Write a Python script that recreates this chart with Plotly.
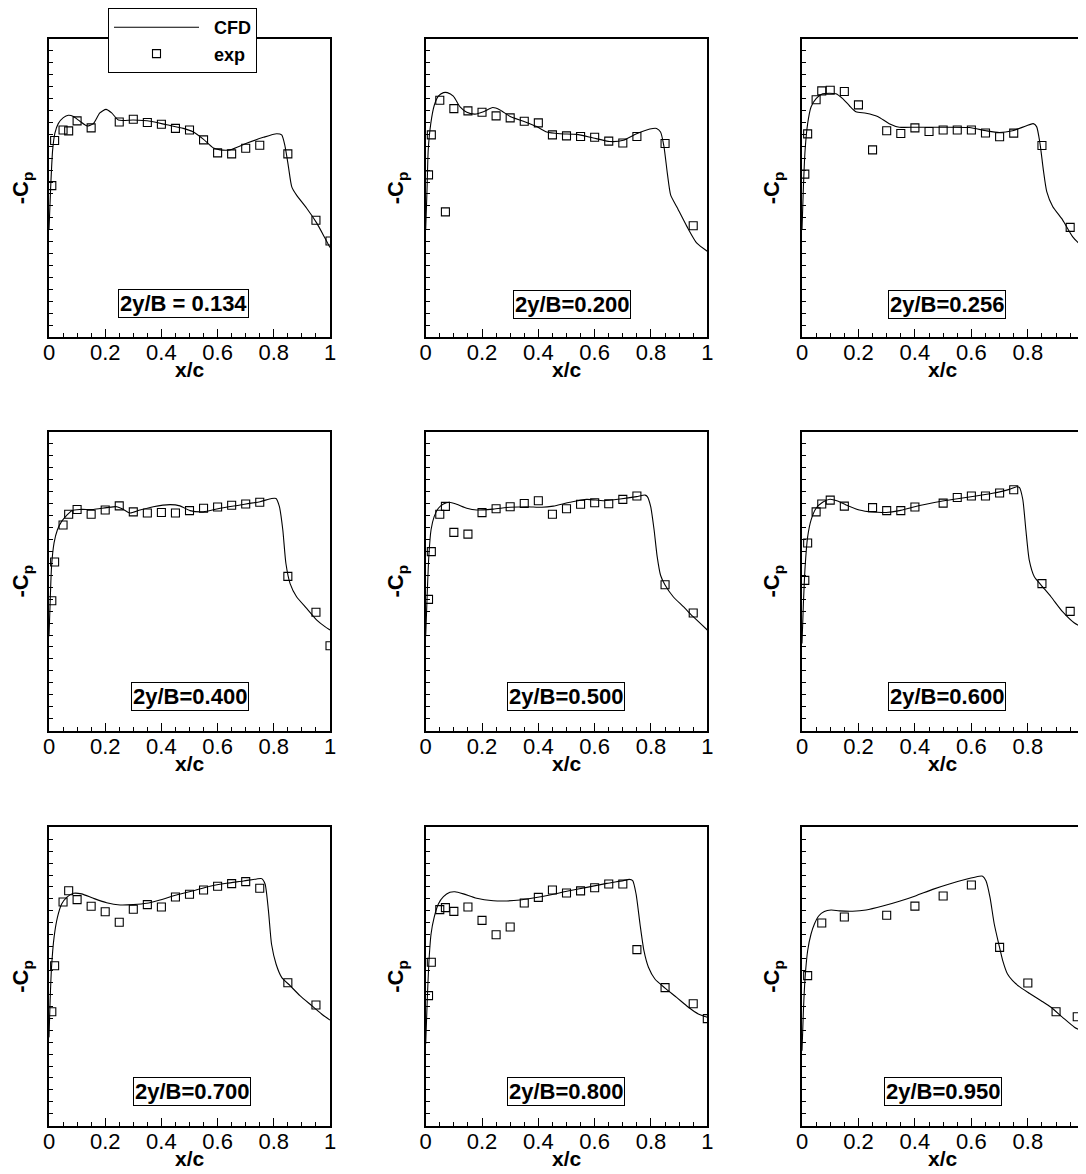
import plotly.graph_objects as go

# ---------------- data ----------------
labels = ["2y/B = 0.134", "2y/B=0.200", "2y/B=0.256",
          "2y/B=0.400", "2y/B=0.500", "2y/B=0.600",
          "2y/B=0.700", "2y/B=0.800", "2y/B=0.950"]

cfd_x1 = [0, 0.006, 0.013, 0.021, 0.033, 0.051, 0.069, 0.087, 0.11, 0.136, 0.158, 0.181, 0.203, 0.223, 0.247, 0.30, 0.36, 0.419, 0.478, 0.514, 0.549, 0.585, 0.609, 0.644, 0.703, 0.763, 0.81, 0.828, 0.84, 0.852, 0.864, 0.881, 0.917, 0.953, 0.982, 1.0]
cfd_y1 = [-0.10, 0.26, 0.57, 0.71, 0.79, 0.84, 0.86, 0.85, 0.81, 0.77, 0.79, 0.88, 0.91, 0.88, 0.82, 0.82, 0.81, 0.78, 0.75, 0.72, 0.66, 0.585, 0.57, 0.57, 0.625, 0.675, 0.705, 0.695, 0.60, 0.43, 0.26, 0.19, 0.08, -0.045, -0.17, -0.25]
exp_x1 = [0.01, 0.02, 0.05, 0.07, 0.10, 0.15, 0.25, 0.30, 0.35, 0.40, 0.45, 0.50, 0.55, 0.60, 0.65, 0.70, 0.75, 0.85, 0.95, 1.0]
exp_y1 = [0.27, 0.648, 0.737, 0.729, 0.813, 0.754, 0.804, 0.827, 0.80, 0.785, 0.75, 0.737, 0.654, 0.545, 0.536, 0.584, 0.609, 0.536, -0.02, -0.195]

cfd_x2 = [0, 0.005, 0.009, 0.018, 0.03, 0.045, 0.063, 0.077, 0.098, 0.122, 0.146, 0.175, 0.205, 0.238, 0.264, 0.30, 0.347, 0.394, 0.43, 0.477, 0.536, 0.595, 0.654, 0.702, 0.749, 0.796, 0.82, 0.834, 0.846, 0.858, 0.87, 0.891, 0.927, 0.962, 1.0]
cfd_y2 = [-0.10, 0.26, 0.57, 0.79, 0.94, 1.02, 1.05, 1.05, 1.02, 0.93, 0.885, 0.87, 0.89, 0.925, 0.905, 0.85, 0.81, 0.765, 0.72, 0.705, 0.70, 0.67, 0.64, 0.65, 0.705, 0.745, 0.75, 0.72, 0.60, 0.375, 0.19, 0.095, -0.07, -0.21, -0.28]
exp_x2 = [0.01, 0.02, 0.05, 0.07, 0.10, 0.15, 0.20, 0.25, 0.30, 0.35, 0.40, 0.45, 0.50, 0.55, 0.60, 0.65, 0.70, 0.75, 0.85, 0.95]
exp_y2 = [0.36, 0.696, 0.986, 0.05, 0.916, 0.897, 0.885, 0.855, 0.838, 0.81, 0.796, 0.696, 0.687, 0.682, 0.676, 0.643, 0.628, 0.682, 0.623, -0.067]

cfd_x3 = [0, 0.005, 0.011, 0.02, 0.032, 0.05, 0.073, 0.097, 0.12, 0.144, 0.168, 0.191, 0.227, 0.268, 0.309, 0.345, 0.404, 0.498, 0.593, 0.652, 0.699, 0.746, 0.793, 0.819, 0.831, 0.843, 0.855, 0.867, 0.888, 0.923, 0.959, 1.0]
cfd_y3 = [-0.10, 0.26, 0.57, 0.79, 0.93, 1.00, 1.04, 1.045, 1.04, 1.00, 0.94, 0.89, 0.877, 0.85, 0.79, 0.76, 0.76, 0.76, 0.757, 0.73, 0.715, 0.73, 0.77, 0.79, 0.765, 0.625, 0.40, 0.22, 0.095, -0.017, -0.16, -0.26]
exp_x3 = [0.01, 0.02, 0.05, 0.07, 0.10, 0.15, 0.20, 0.25, 0.30, 0.35, 0.40, 0.45, 0.50, 0.55, 0.60, 0.65, 0.70, 0.75, 0.85, 0.95, 1.0]
exp_y3 = [0.366, 0.704, 0.99, 1.065, 1.07, 1.06, 0.947, 0.57, 0.73, 0.707, 0.754, 0.724, 0.737, 0.737, 0.737, 0.712, 0.68, 0.71, 0.606, -0.08, -0.43]

cfd_x4 = [0, 0.004, 0.009, 0.018, 0.03, 0.045, 0.063, 0.081, 0.11, 0.158, 0.205, 0.241, 0.265, 0.288, 0.324, 0.371, 0.431, 0.466, 0.502, 0.549, 0.609, 0.68, 0.751, 0.792, 0.808, 0.82, 0.832, 0.843, 0.858, 0.881, 0.917, 0.953, 0.982, 1.0]
cfd_y4 = [-0.21, 0.065, 0.37, 0.57, 0.68, 0.75, 0.80, 0.84, 0.85, 0.85, 0.865, 0.873, 0.85, 0.82, 0.845, 0.873, 0.89, 0.88, 0.84, 0.83, 0.86, 0.887, 0.915, 0.942, 0.942, 0.873, 0.68, 0.40, 0.23, 0.12, 0.023, -0.075, -0.13, -0.158]
exp_x4 = [0.01, 0.02, 0.05, 0.07, 0.10, 0.15, 0.20, 0.25, 0.30, 0.35, 0.40, 0.45, 0.50, 0.55, 0.60, 0.65, 0.70, 0.75, 0.85, 0.95, 1.0]
exp_y4 = [0.087, 0.41, 0.72, 0.81, 0.85, 0.81, 0.845, 0.88, 0.83, 0.82, 0.825, 0.82, 0.84, 0.86, 0.87, 0.885, 0.895, 0.91, 0.29, -0.01, -0.29]

cfd_x5 = [0, 0.005, 0.011, 0.019, 0.03, 0.045, 0.063, 0.084, 0.11, 0.146, 0.181, 0.24, 0.299, 0.359, 0.412, 0.453, 0.512, 0.572, 0.631, 0.69, 0.749, 0.779, 0.787, 0.799, 0.811, 0.822, 0.834, 0.85, 0.879, 0.915, 0.95, 1.0]
cfd_y5 = [-0.21, 0.12, 0.455, 0.68, 0.79, 0.86, 0.895, 0.91, 0.893, 0.86, 0.845, 0.853, 0.868, 0.873, 0.868, 0.878, 0.91, 0.934, 0.923, 0.937, 0.957, 0.97, 0.957, 0.873, 0.68, 0.455, 0.30, 0.218, 0.12, 0.037, -0.047, -0.158]
exp_x5 = [0.01, 0.02, 0.05, 0.07, 0.10, 0.15, 0.20, 0.25, 0.30, 0.35, 0.40, 0.45, 0.50, 0.55, 0.60, 0.65, 0.70, 0.75, 0.85, 0.95]
exp_y5 = [0.098, 0.497, 0.81, 0.876, 0.658, 0.644, 0.823, 0.856, 0.873, 0.90, 0.923, 0.81, 0.856, 0.893, 0.906, 0.898, 0.934, 0.962, 0.22, -0.016]

cfd_x6 = [0, 0.005, 0.011, 0.02, 0.032, 0.05, 0.073, 0.099, 0.126, 0.156, 0.203, 0.25, 0.298, 0.345, 0.392, 0.439, 0.498, 0.557, 0.616, 0.675, 0.734, 0.76, 0.77, 0.782, 0.793, 0.805, 0.823, 0.847, 0.882, 0.923, 0.965, 1.0]
cfd_y6 = [-0.27, 0.065, 0.37, 0.62, 0.76, 0.86, 0.91, 0.935, 0.92, 0.888, 0.845, 0.828, 0.825, 0.84, 0.868, 0.893, 0.92, 0.942, 0.962, 0.985, 1.018, 1.04, 1.035, 0.935, 0.68, 0.427, 0.288, 0.218, 0.12, -0.005, -0.10, -0.145]
exp_x6 = [0.01, 0.02, 0.05, 0.07, 0.10, 0.15, 0.25, 0.30, 0.35, 0.40, 0.50, 0.55, 0.60, 0.65, 0.70, 0.75, 0.85, 0.95]
exp_y6 = [0.257, 0.57, 0.83, 0.895, 0.928, 0.878, 0.865, 0.84, 0.84, 0.87, 0.903, 0.95, 0.962, 0.962, 0.987, 1.015, 0.23, -0.002]

cfd_x7 = [0, 0.004, 0.009, 0.018, 0.03, 0.045, 0.063, 0.087, 0.116, 0.158, 0.205, 0.253, 0.30, 0.348, 0.395, 0.454, 0.514, 0.573, 0.632, 0.692, 0.739, 0.757, 0.769, 0.781, 0.792, 0.808, 0.828, 0.858, 0.893, 0.935, 0.97, 1.0]
cfd_y7 = [-0.26, 0.048, 0.327, 0.578, 0.745, 0.857, 0.913, 0.947, 0.942, 0.905, 0.868, 0.849, 0.852, 0.863, 0.891, 0.933, 0.969, 1.006, 1.031, 1.05, 1.067, 1.07, 1.025, 0.80, 0.52, 0.355, 0.243, 0.173, 0.09, 0.006, -0.064, -0.115]
exp_x7 = [0.01, 0.02, 0.05, 0.07, 0.10, 0.15, 0.20, 0.25, 0.30, 0.35, 0.40, 0.45, 0.50, 0.55, 0.60, 0.65, 0.70, 0.75, 0.85, 0.95]
exp_y7 = [-0.045, 0.34, 0.874, 0.969, 0.894, 0.838, 0.793, 0.704, 0.813, 0.852, 0.832, 0.916, 0.939, 0.975, 1.006, 1.028, 1.045, 0.989, 0.198, 0.011]

cfd_x8 = [0, 0.005, 0.011, 0.019, 0.03, 0.045, 0.063, 0.086, 0.104, 0.134, 0.181, 0.24, 0.288, 0.335, 0.382, 0.441, 0.501, 0.572, 0.643, 0.702, 0.723, 0.735, 0.747, 0.761, 0.775, 0.791, 0.814, 0.85, 0.891, 0.933, 0.968, 1.0]
cfd_y8 = [-0.316, 0.02, 0.355, 0.606, 0.745, 0.857, 0.919, 0.955, 0.96, 0.942, 0.905, 0.885, 0.883, 0.891, 0.908, 0.933, 0.964, 0.997, 1.03, 1.053, 1.064, 1.053, 0.942, 0.69, 0.466, 0.327, 0.229, 0.153, 0.075, -0.008, -0.064, -0.092]
exp_x8 = [0.01, 0.02, 0.05, 0.07, 0.10, 0.15, 0.20, 0.25, 0.30, 0.35, 0.40, 0.45, 0.50, 0.55, 0.60, 0.65, 0.70, 0.75, 0.85, 0.95, 1.0]
exp_y8 = [0.09, 0.369, 0.81, 0.827, 0.796, 0.832, 0.72, 0.60, 0.665, 0.866, 0.913, 0.975, 0.95, 0.967, 0.994, 1.025, 1.025, 0.475, 0.157, 0.022, -0.103]

cfd_x9 = [0, 0.005, 0.011, 0.02, 0.032, 0.044, 0.059, 0.079, 0.103, 0.132, 0.179, 0.227, 0.286, 0.345, 0.404, 0.463, 0.522, 0.581, 0.628, 0.64, 0.652, 0.666, 0.681, 0.697, 0.711, 0.728, 0.746, 0.77, 0.805, 0.847, 0.882, 0.923, 0.965, 1.0]
cfd_y9 = [-0.372, -0.037, 0.243, 0.466, 0.606, 0.69, 0.757, 0.794, 0.807, 0.80, 0.797, 0.807, 0.84, 0.88, 0.927, 0.98, 1.025, 1.064, 1.09, 1.09, 1.05, 0.913, 0.69, 0.522, 0.383, 0.27, 0.215, 0.165, 0.11, 0.047, -0.008, -0.092, -0.175, -0.218]
exp_x9 = [0.02, 0.07, 0.15, 0.30, 0.40, 0.50, 0.60, 0.70, 0.80, 0.90, 0.975]
exp_y9 = [0.257, 0.698, 0.749, 0.763, 0.84, 0.925, 1.017, 0.494, 0.196, -0.045, -0.087]

cfd_x = [cfd_x1, cfd_x2, cfd_x3, cfd_x4, cfd_x5, cfd_x6, cfd_x7, cfd_x8, cfd_x9]
cfd_y = [cfd_y1, cfd_y2, cfd_y3, cfd_y4, cfd_y5, cfd_y6, cfd_y7, cfd_y8, cfd_y9]
exp_x = [exp_x1, exp_x2, exp_x3, exp_x4, exp_x5, exp_x6, exp_x7, exp_x8, exp_x9]
exp_y = [exp_y1, exp_y2, exp_y3, exp_y4, exp_y5, exp_y6, exp_y7, exp_y8, exp_y9]

x_tickvals = [0, 0.2, 0.4, 0.6, 0.8, 1.0]
x_ticktext = ["0", "0.2", "0.4", "0.6", "0.8", "1"]
y_range = [-1.0, 1.5]

# ---------------- layout geometry ----------------
W, H = 1086, 1174
OFF = 8  # page body margin of the html page
col_px = [(49, 330), (425.7, 707.3), (802, 1084.3)]
row_px = [(39, 337), (431.7, 730.7), (827.3, 1125.7)]
label_pos = [(0.48, 0.114), (0.518, 0.11), (0.513, 0.11),
             (0.50, 0.116), (0.497, 0.116), (0.514, 0.116),
             (0.508, 0.115), (0.499, 0.115), (0.50, 0.115)]

FONT = "Liberation Sans, Arial, Helvetica, sans-serif"

fig = go.Figure()
layout = {}
annotations = []
for i in range(9):
    r, c = divmod(i, 3)
    n = "" if i == 0 else str(i + 1)
    xa, ya = "x" + n, "y" + n
    fig.add_trace(go.Scatter(
        x=cfd_x[i], y=cfd_y[i], mode="lines", name="<b>&nbsp;&nbsp;CFD</b>",
        line=dict(color="black", width=1.1, shape="spline", smoothing=0.6),
        xaxis=xa, yaxis=ya, showlegend=(i == 0), legendrank=1))
    fig.add_trace(go.Scatter(
        x=exp_x[i], y=exp_y[i], mode="markers", name="<b>&nbsp;&nbsp;exp</b>",
        marker=dict(symbol="square-open", size=8, color="black",
                    line=dict(width=1.1, color="black")),
        xaxis=xa, yaxis=ya, showlegend=(i == 0), legendrank=2))
    x0, x1 = [v - OFF for v in col_px[c]]
    y0, y1 = [v - OFF for v in row_px[r]]
    layout["xaxis" + n] = dict(
        domain=[x0 / W, x1 / W], range=[0, 1], anchor=ya,
        tickmode="array", tickvals=x_tickvals, ticktext=x_ticktext,
        ticks="inside", ticklen=8, tickwidth=1.2, tickcolor="black",
        minor=dict(dtick=0.05, ticks="inside", ticklen=4, tickwidth=1, tickcolor="black"),
        showline=True, linecolor="black", linewidth=2, mirror=True,
        showgrid=False, zeroline=False, ticklabelstandoff=-5,
        tickfont=dict(family=FONT, size=22, color="black"),
        automargin=False)
    layout["yaxis" + n] = dict(
        domain=[1 - y1 / H, 1 - y0 / H], range=y_range, anchor=xa,
        dtick=0.1, tick0=0, showticklabels=False,
        ticks="inside", ticklen=4, tickwidth=1, tickcolor="black",
        showline=True, linecolor="black", linewidth=2, mirror=True,
        showgrid=False, zeroline=False,
        title=dict(text="<b>-C<sub>p</sub></b>", font=dict(family=FONT, size=22, color="black"),
                   standoff=14),
        automargin=False)
    lx, ly = label_pos[i]
    annotations.append(dict(
        text="<b>" + labels[i] + "</b>", xref=xa + " domain", yref=ya + " domain",
        x=lx, y=ly, xanchor="center", yanchor="middle", showarrow=False,
        font=dict(family=FONT, size=22, color="black"),
        bgcolor="white", bordercolor="black", borderwidth=1, borderpad=1))
    # x-axis title, placed just under the tick labels as in the reference
    annotations.append(dict(
        text="<b>x/c</b>", xref=xa + " domain", yref=ya + " domain",
        x=0.5, y=-33 / (y1 - y0), xanchor="center", yanchor="middle", showarrow=False,
        font=dict(family=FONT, size=21, color="black")))

fig.update_layout(
    width=W, height=H, margin=dict(l=0, r=0, t=0, b=0),
    paper_bgcolor="white", plot_bgcolor="white",
    annotations=annotations,
    legend=dict(x=(108 - OFF) / W, y=1.0, xanchor="left", yanchor="top",
                bgcolor="white", bordercolor="black", borderwidth=1,
                font=dict(family=FONT, size=18, color="black"),
                itemwidth=85, tracegroupgap=0),
    **layout)

fig.write_html("out.html")
